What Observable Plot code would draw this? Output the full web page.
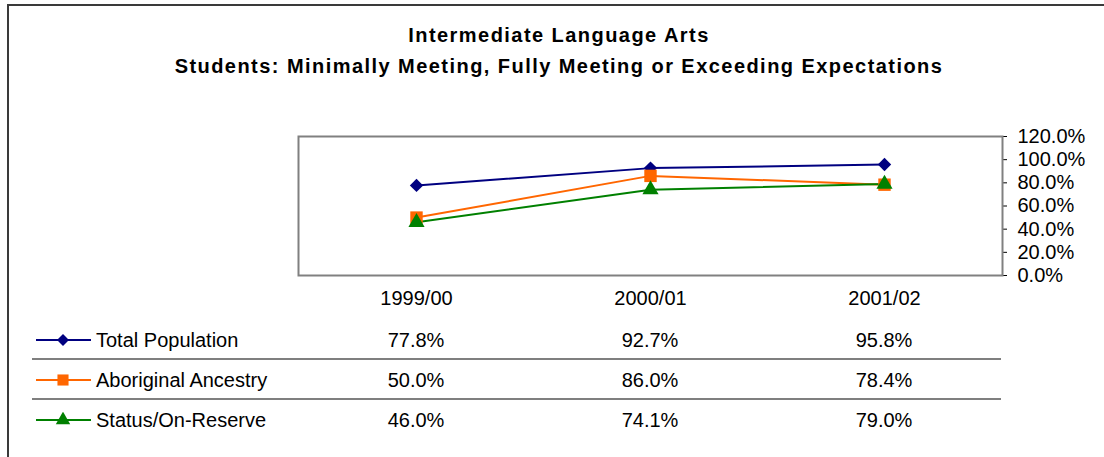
<!DOCTYPE html>
<html>
<head>
<meta charset="utf-8">
<script src="https://cdn.jsdelivr.net/npm/d3@7"></script>
<script src="https://cdn.jsdelivr.net/npm/@observablehq/plot@0.6"></script>
<style>
  html, body { margin: 0; padding: 0; background: #fff; }
  body { font-family: "Liberation Sans", Arial, sans-serif; color: #000; }
  #wrap { position: relative; width: 1104px; height: 457px; overflow: hidden; background: #fff; }
  #frame { position: absolute; left: 7px; top: 4px; width: 1200px; height: 600px;
           border-left: 2px solid #3a3a3a; border-top: 2px solid #3a3a3a; }
  .title { position: absolute; left: 0; width: 1118px; text-align: center; font-weight: bold;
           font-size: 20px; line-height: 20px; letter-spacing: 1.45px; white-space: nowrap; }
  #chart { position: absolute; left: 0; top: 0; }
  #table { position: absolute; left: 32px; top: 320px; width: 969px; }
  .row { position: relative; height: 40px; box-sizing: border-box; font-size: 20px; line-height: 40px; }
  .row.sep { border-bottom: 2px solid #7f7f7f; }
  .leg { position: absolute; left: 4px; top: 0; height: 40px; display: flex; align-items: center; }
  .leg svg { display: block; margin-right: 5px; }
  .val { position: absolute; top: 0; transform: translateX(-50%); white-space: nowrap; }
</style>
</head>
<body>
<div id="wrap">
  <div id="frame"></div>
  <div class="title" id="t1" style="top:25px"></div>
  <div class="title" id="t2" style="top:56px"></div>
  <div id="chart"></div>
  <div id="table"></div>
</div>
<script>
const titleLines = [
  "Intermediate Language Arts",
  "Students: Minimally Meeting, Fully Meeting or Exceeding Expectations"
];
const years = ["1999/00", "2000/01", "2001/02"];
const seriesNames = ["Total Population", "Aboriginal Ancestry", "Status/On-Reserve"];
const totalPopulation = [0.778, 0.927, 0.958];
const aboriginalAncestry = [0.500, 0.860, 0.784];
const statusOnReserve = [0.460, 0.741, 0.790];
const seriesColors = ["#000080", "#FF6600", "#008000"];
const seriesSymbols = ["diamond2", "square", "triangle"];
const yTicks = [0, 0.2, 0.4, 0.6, 0.8, 1.0, 1.2];

const seriesValues = [totalPopulation, aboriginalAncestry, statusOnReserve];
const symbolR = { diamond2: 6.0, square: 7.0, triangle: 6.0 };
const d3Symbols = { diamond2: d3.symbolDiamond2, square: d3.symbolSquare, triangle: d3.symbolTriangle };

document.getElementById("t1").textContent = titleLines[0];
document.getElementById("t2").textContent = titleLines[1];

const rows = [];
seriesNames.forEach((s, i) => years.forEach((yr, j) => rows.push({series: s, year: yr, value: seriesValues[i][j]})));

const fmt = d3.format(".1%");
const marks = [
  Plot.frame({stroke: "#808080", strokeWidth: 2})
];
seriesNames.forEach((s, i) => {
  marks.push(Plot.line(rows.filter(d => d.series === s), {x: "year", y: "value", stroke: seriesColors[i], strokeWidth: 2}));
});
seriesNames.forEach((s, i) => {
  marks.push(Plot.dot(rows.filter(d => d.series === s), {x: "year", y: "value", fill: seriesColors[i], stroke: "none",
    symbol: () => seriesSymbols[i], r: symbolR[seriesSymbols[i]]}));
});

const chart = Plot.plot({
  width: 1104,
  height: 310,
  marginLeft: 298,
  marginRight: 102,
  marginTop: 136,
  marginBottom: 35,
  style: {fontSize: "20px", fontFamily: "'Liberation Sans', Arial, sans-serif", background: "transparent", overflow: "visible"},
  symbol: {domain: seriesSymbols, range: seriesSymbols},
  x: {type: "point", domain: years, padding: 0.5, label: null, tickSize: 0, tickPadding: 15, line: true},
  y: {domain: [0, 1.2], ticks: yTicks, tickFormat: fmt, axis: "right", label: null, tickSize: 4, tickPadding: 11, line: true},
  marks
});
document.getElementById("chart").appendChild(chart);

// data table below the chart, columns aligned to the chart's x scale
const xs = chart.scale("x");
const tableLeft = 32;
const table = d3.select("#table");
seriesNames.forEach((s, i) => {
  const row = table.append("div").attr("class", "row" + (i < seriesNames.length - 1 ? " sep" : ""));
  const leg = row.append("div").attr("class", "leg");
  const svg = leg.append("svg").attr("width", 55).attr("height", 16);
  svg.append("line").attr("x1", 0).attr("x2", 55).attr("y1", 8).attr("y2", 8)
     .attr("stroke", seriesColors[i]).attr("stroke-width", 2);
  const r = symbolR[seriesSymbols[i]];
  svg.append("path").attr("transform", "translate(27,8)")
     .attr("d", d3.symbol(d3Symbols[seriesSymbols[i]], Math.PI * r * r * 0.8)())
     .attr("fill", seriesColors[i]);
  leg.append("span").text(s);
  years.forEach((yr, j) => {
    row.append("div").attr("class", "val")
       .style("left", (xs.apply(yr) - tableLeft) + "px")
       .text(fmt(seriesValues[i][j]));
  });
});
</script>
</body>
</html>
